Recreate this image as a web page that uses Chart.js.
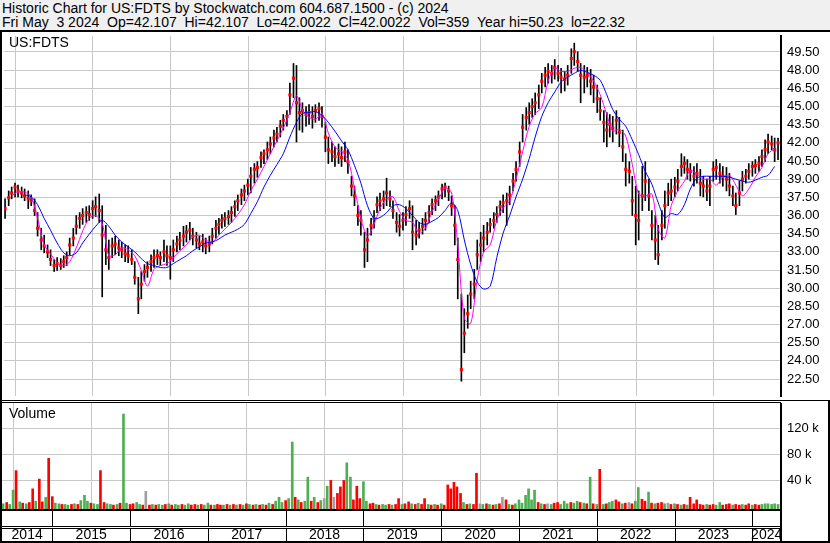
<!DOCTYPE html>
<html>
<head>
<meta charset="utf-8">
<script src="https://cdn.jsdelivr.net/npm/chart.js@4.4.1/dist/chart.umd.min.js"></script>
<style>
  html, body { margin: 0; padding: 0; background: #fff; }
  body { width: 830px; height: 543px; position: relative; overflow: hidden; font-family: "Liberation Sans", Arial, sans-serif; }
  #head { position: absolute; left: 0; top: 0; width: 830px; height: 30px; background: #f0f0f0; }
  .hl { position: absolute; left: 2px; font-size: 14px; line-height: 14px; white-space: pre; color: #000; }
  .blk { position: absolute; background: #000; z-index: 5; }
  .lbl { position: absolute; font-size: 14px; line-height: 14px; color: #000; z-index: 5; }
  #pricebox { position: absolute; left: 0; top: 32px; width: 830px; height: 368px; }
  #volbox { position: absolute; left: 0; top: 403px; width: 830px; height: 140px; }
</style>
</head>
<body>
<div id="head">
  <div class="hl" style="top:1px">Historic Chart for US:FDTS by Stockwatch.com 604.687.1500 - (c) 2024</div>
  <div class="hl" style="top:15px">Fri May  3 2024  Op=42.107  Hi=42.107  Lo=42.0022  Cl=42.0022  Vol=359  Year hi=50.23  lo=22.32</div>
</div>
<div class="blk" style="left:0;top:30px;width:830px;height:2px"></div>
<div id="pricebox"><canvas id="price" width="830" height="368"></canvas></div>
<div id="volbox"><canvas id="vol" width="830" height="140"></canvas></div>
<div class="blk" style="left:0;top:400px;width:830px;height:1px"></div>
<div class="blk" style="left:0;top:402px;width:781px;height:1px"></div>
<div class="blk" style="left:0;top:32px;width:2px;height:510px"></div>
<div class="blk" style="left:828px;top:400px;width:2px;height:143px"></div>
<div class="lbl" style="left:9px;top:35px">US:FDTS</div>
<div class="lbl" style="left:9px;top:406px">Volume</div>

<script>
// semi-monthly sample dates
const dates = [
  '2014-05-15','2014-06-01','2014-06-15','2014-07-01','2014-07-15','2014-08-01','2014-08-15','2014-09-01','2014-09-15','2014-10-01','2014-10-15','2014-11-01','2014-11-15','2014-12-01','2014-12-15',
  '2015-01-01','2015-01-15','2015-02-01','2015-02-15','2015-03-01','2015-03-15','2015-04-01','2015-04-15','2015-05-01','2015-05-15','2015-06-01','2015-06-15','2015-07-01','2015-07-15','2015-08-01','2015-08-15','2015-09-01','2015-09-15','2015-10-01','2015-10-15','2015-11-01','2015-11-15','2015-12-01','2015-12-15',
  '2016-01-01','2016-01-15','2016-02-01','2016-02-15','2016-03-01','2016-03-15','2016-04-01','2016-04-15','2016-05-01','2016-05-15','2016-06-01','2016-06-15','2016-07-01','2016-07-15','2016-08-01','2016-08-15','2016-09-01','2016-09-15','2016-10-01','2016-10-15','2016-11-01','2016-11-15','2016-12-01','2016-12-15',
  '2017-01-01','2017-01-15','2017-02-01','2017-02-15','2017-03-01','2017-03-15','2017-04-01','2017-04-15','2017-05-01','2017-05-15','2017-06-01','2017-06-15','2017-07-01','2017-07-15','2017-08-01','2017-08-15','2017-09-01','2017-09-15','2017-10-01','2017-10-15','2017-11-01','2017-11-15','2017-12-01','2017-12-15',
  '2018-01-01','2018-01-15','2018-02-01','2018-02-15','2018-03-01','2018-03-15','2018-04-01','2018-04-15','2018-05-01','2018-05-15','2018-06-01','2018-06-15','2018-07-01','2018-07-15','2018-08-01','2018-08-15','2018-09-01','2018-09-15','2018-10-01','2018-10-15','2018-11-01','2018-11-15','2018-12-01','2018-12-15',
  '2019-01-01','2019-01-15','2019-02-01','2019-02-15','2019-03-01','2019-03-15','2019-04-01','2019-04-15','2019-05-01','2019-05-15','2019-06-01','2019-06-15','2019-07-01','2019-07-15','2019-08-01','2019-08-15','2019-09-01','2019-09-15','2019-10-01','2019-10-15','2019-11-01','2019-11-15','2019-12-01','2019-12-15',
  '2020-01-01','2020-01-15','2020-02-01','2020-02-15','2020-03-01','2020-03-15','2020-04-01','2020-04-15','2020-05-01','2020-05-15','2020-06-01','2020-06-15','2020-07-01','2020-07-15','2020-08-01','2020-08-15','2020-09-01','2020-09-15','2020-10-01','2020-10-15','2020-11-01','2020-11-15','2020-12-01','2020-12-15',
  '2021-01-01','2021-01-15','2021-02-01','2021-02-15','2021-03-01','2021-03-15','2021-04-01','2021-04-15','2021-05-01','2021-05-15','2021-06-01','2021-06-15','2021-07-01','2021-07-15','2021-08-01','2021-08-15','2021-09-01','2021-09-15','2021-10-01','2021-10-15','2021-11-01','2021-11-15','2021-12-01','2021-12-15',
  '2022-01-01','2022-01-15','2022-02-01','2022-02-15','2022-03-01','2022-03-15','2022-04-01','2022-04-15','2022-05-01','2022-05-15','2022-06-01','2022-06-15','2022-07-01','2022-07-15','2022-08-01','2022-08-15','2022-09-01','2022-09-15','2022-10-01','2022-10-15','2022-11-01','2022-11-15','2022-12-01','2022-12-15',
  '2023-01-01','2023-01-15','2023-02-01','2023-02-15','2023-03-01','2023-03-15','2023-04-01','2023-04-15','2023-05-01','2023-05-15','2023-06-01','2023-06-15','2023-07-01','2023-07-15','2023-08-01','2023-08-15','2023-09-01','2023-09-15','2023-10-01','2023-10-15','2023-11-01','2023-11-15','2023-12-01','2023-12-15',
  '2024-01-01','2024-01-15','2024-02-01','2024-02-15','2024-03-01','2024-03-15','2024-04-01','2024-04-15','2024-05-01'
];

const high = [
  37.38,38.03,38.35,38.67,38.51,38.35,38.19,38.03,37.70,37.38, 36.24,34.95,34.38,33.57,33.17,32.36,32.52,32.44,32.68,33.00,
  34.14,34.95,36.00,36.24,36.57,36.73,36.81,37.22,37.54,37.78, 36.81,35.19,33.98,34.14,34.30,33.98,33.81,33.57,33.49,33.17,
  32.19,30.90,31.38,31.95,32.19,32.76,33.17,33.17,33.00,33.98, 33.49,33.49,33.98,34.30,34.62,35.11,35.19,35.43,34.95,34.62,
  34.30,34.46,34.14,34.30,34.95,35.60,35.76,36.08,36.24,36.41, 36.73,37.22,37.70,38.19,38.51,39.00,39.97,40.29,40.45,41.26,
  41.43,42.07,42.48,43.05,43.29,43.86,44.34,44.66,46.93,48.55, 48.39,45.72,45.31,44.99,45.15,44.99,45.15,45.31,44.99,43.69,
  42.48,42.07,41.67,41.91,41.67,42.07,41.43,39.24,38.43,36.81, 36.41,34.62,34.95,35.76,36.41,37.54,37.86,38.03,39.08,38.03,
  37.22,36.24,36.08,36.24,36.73,37.22,36.81,35.60,35.43,35.76, 36.24,36.81,37.38,37.62,38.03,38.59,38.67,38.43,37.62,36.81,
  34.14,29.52,28.31,29.44,30.58,31.55,33.98,34.62,35.19,35.43, 35.76,36.24,36.73,37.22,37.70,37.86,38.43,39.48,40.45,42.07,
  44.34,44.91,45.31,45.64,46.12,46.77,47.74,48.23,48.55,48.39, 48.88,48.39,48.15,47.90,48.39,49.77,50.23,49.52,48.55,48.39,
  48.23,48.07,47.58,46.77,45.72,44.66,44.50,44.34,44.18,44.66, 44.10,43.05,41.10,40.45,39.24,38.43,38.03,40.05,40.45,39.00,
  36.41,36.00,35.19,36.41,38.03,38.67,39.00,39.16,39.81,41.10, 40.86,40.62,40.29,40.05,40.29,39.81,39.24,39.00,39.24,40.45,
  40.62,40.29,40.05,39.97,39.48,38.43,37.86,38.84,39.65,39.81, 40.29,40.45,40.62,40.86,41.43,42.24,42.72,42.56,42.40,42.40
];

const low = [
  35.76,36.81,37.38,37.54,37.54,37.46,37.22,36.57,36.81,36.00, 34.30,33.17,32.92,32.52,31.87,31.38,31.47,31.55,31.71,31.87,
  32.76,33.49,34.46,34.95,35.27,35.43,35.60,35.76,35.92,35.43, 29.28,31.95,31.55,32.52,32.76,32.68,32.52,32.19,32.11,31.95,
  30.33,27.90,29.12,30.58,30.90,31.38,31.71,31.95,31.87,32.19, 31.87,30.74,32.19,33.00,33.17,33.49,33.81,33.98,33.57,33.33,
  33.17,33.00,32.84,33.00,33.65,34.14,34.46,34.95,35.11,35.27, 35.43,35.92,36.41,36.89,37.22,37.70,37.86,38.67,39.16,39.97,
  40.29,40.62,41.10,41.67,42.07,42.48,43.05,43.37,44.34,45.72, 42.07,43.05,42.88,43.37,43.53,43.21,43.69,43.86,43.29,41.26,
  40.29,40.45,40.05,40.29,40.05,40.45,39.48,37.62,36.81,35.19, 34.38,31.71,32.19,34.38,34.95,36.24,36.41,36.57,36.81,36.73,
  35.76,34.62,34.30,34.79,35.19,35.76,33.17,33.57,34.14,34.46, 34.79,35.43,36.08,36.41,36.81,37.38,37.54,37.22,36.00,33.57,
  29.12,22.32,24.67,26.69,28.31,29.12,31.55,32.19,33.00,33.57, 34.62,34.95,35.43,36.00,36.24,35.19,36.89,38.03,38.84,40.05,
  42.07,43.05,43.53,44.10,44.34,44.83,46.12,46.61,46.93,46.93, 47.26,47.09,46.12,46.28,46.77,47.74,48.39,47.90,45.31,46.12,
  46.61,45.96,45.31,44.50,43.86,42.07,41.67,42.48,42.07,42.72, 41.67,40.45,38.43,38.67,36.00,33.57,33.98,36.41,37.22,36.41,
  33.98,32.36,31.95,33.98,34.95,36.81,37.22,37.54,38.03,39.24, 39.48,39.00,38.84,38.43,38.67,37.62,37.54,37.22,36.81,38.84,
  39.00,38.67,38.43,38.03,37.62,36.81,36.08,36.81,38.03,38.67, 39.00,39.24,39.48,39.65,40.05,40.45,41.10,41.43,40.45,40.62
];

const close = [
  36.57,37.46,37.86,38.35,38.03,37.86,37.62,37.38,37.22,36.41, 34.95,33.98,33.49,33.00,32.36,31.87,32.03,31.87,32.19,32.52,
  33.57,34.14,35.11,35.76,36.00,36.24,36.08,36.57,36.73,36.41, 34.38,33.17,32.52,33.49,33.65,33.33,33.17,32.84,32.68,32.36,
  30.90,29.12,30.33,31.38,31.71,32.19,32.52,32.68,32.52,33.00, 32.68,32.52,33.17,33.65,33.98,34.30,34.62,34.79,34.30,33.98,
  33.65,33.81,33.49,33.65,34.30,34.95,35.27,35.60,35.76,35.92, 36.24,36.73,37.22,37.70,38.03,38.51,39.24,39.81,39.97,40.78,
  41.10,41.43,41.91,42.40,42.72,43.37,43.86,44.18,45.96,47.34, 45.31,44.50,44.66,44.34,44.50,44.18,44.66,44.83,44.18,42.48,
  41.43,41.26,40.86,41.10,40.78,41.26,40.45,38.43,37.62,36.00, 35.60,33.17,33.98,35.19,35.76,36.89,37.22,37.38,37.86,37.38,
  36.41,35.43,35.11,35.60,36.08,36.57,34.62,34.38,34.79,35.11, 35.60,36.24,36.89,37.22,37.54,38.19,38.35,38.03,36.81,35.19,
  32.36,23.29,26.28,27.90,29.52,30.33,32.76,33.57,34.14,34.62, 35.27,35.60,36.08,36.73,37.05,37.22,37.70,38.84,39.81,41.26,
  43.29,44.10,44.50,44.99,45.31,45.96,47.09,47.58,47.90,47.74, 48.23,47.74,47.42,47.26,47.58,48.96,49.52,48.71,47.58,47.42,
  47.58,47.09,46.61,45.64,44.66,43.69,43.05,43.53,43.21,43.86, 42.88,41.67,39.81,39.65,37.22,36.00,35.60,37.62,38.84,37.62,
  35.19,33.98,32.76,35.19,36.81,37.86,38.03,38.35,38.84,40.05, 40.29,39.81,39.65,39.24,39.48,38.67,38.43,38.03,38.43,39.81,
  39.97,39.48,39.24,39.00,38.43,37.62,36.81,37.86,39.00,39.24, 39.65,40.05,40.13,40.29,40.86,41.43,42.07,41.91,41.43,42.00
];

// moving averages, one reading per month (15th)
const maShort = [
  null,37.62,37.94,37.94,37.54,35.76,33.57,32.84,32.11,31.87, 32.19,33.33,34.71,35.76,36.00,35.35,32.68,32.76,33.33,33.17,
  32.68,31.47,30.17,31.55,31.87,32.03,32.52,33.09,33.57,34.22, 34.38,33.98,33.81,34.38,34.87,35.43,36.08,36.89,38.03,39.00,
  40.05,41.10,42.16,43.21,44.50,45.88,44.75,44.10,43.94,44.42, 42.80,41.67,41.26,40.62,38.27,35.76,34.30,35.27,36.57,37.38,
  37.54,36.33,35.60,35.43,34.54,34.95,36.33,37.30,38.27,37.86, 33.57,27.50,27.09,30.74,33.00,33.57,35.60,36.65,37.22,39.00,
  41.26,43.37,44.42,44.91,47.09,48.15,47.90,47.90,48.15,48.23, 47.82,47.09,45.96,44.34,42.96,43.13,42.56,40.21,37.78,37.62,
  37.78,34.87,34.14,36.81,38.03,38.84,39.73,39.40,39.00,39.00, 38.51,39.16,39.32,38.51,37.62,38.19,39.16,39.97,41.10,41.51
];
const maLong = [
  null,null,null,37.70,37.54,36.89,35.76,34.79,33.73,32.92, 32.68,32.92,33.73,34.46,35.11,35.60,35.11,34.38,33.81,33.41,
  33.00,32.44,32.03,31.87,31.71,31.71,32.03,32.36,32.68,33.09, 33.41,33.73,33.81,34.06,34.38,34.62,34.87,35.27,36.16,37.14,
  38.35,39.32,40.21,41.10,42.48,43.69,44.42,44.50,44.58,44.26, 43.69,42.96,42.16,41.43,40.13,38.67,36.81,35.76,35.84,36.24,
  36.81,36.89,36.57,36.00,35.43,35.27,35.52,35.84,36.41,37.05, 36.41,33.98,31.95,30.50,29.93,30.17,32.52,34.54,36.00,37.54,
  39.00,40.70,42.48,44.18,45.31,46.20,47.01,47.42,47.74,47.98, 47.82,47.58,47.17,45.96,44.75,43.94,43.37,42.24,41.02,39.65,
  38.59,37.05,35.84,36.16,36.08,36.89,38.19,39.08,39.24,39.24, 39.24,39.24,39.16,39.00,38.84,38.75,38.92,39.16,39.32,40.05
];

// volume in thousands of shares, colour code per bar: g up, r down, n unchanged
const volume = [
  4,6,3,25,55,7,5,4,6,27, 8,42,7,14,74,15,5,4,3,3, 2,3,4,3,9,17,8,5,4,3, 55,6,4,3,2,3,5,142,5,3,
  4,6,3,2,23,2,3,2,3,2, 3,4,2,3,2,3,2,4,2,3, 2,3,2,5,2,2,3,2,2,3, 2,3,2,3,2,4,3,2,3,2,
  3,2,5,3,8,14,6,9,12,99, 14,10,6,8,45,8,14,6,9,12, 31,40,14,20,30,40,67,45,10,31, 12,38,8,4,5,3,2,3,2,3,
  2,3,12,3,4,7,4,3,5,3, 12,3,2,3,2,4,2,33,27,37, 30,20,6,3,4,3,51,4,3,4, 3,2,3,4,14,10,3,2,4,10,
  5,17,27,10,25,6,4,3,4,3, 5,6,3,8,4,6,5,8,6,5, 4,45,4,3,57,3,4,6,8,10, 7,4,5,6,4,8,29,11,8,22,
  5,4,5,6,4,5,3,4,3,2, 3,2,14,4,10,3,2,3,2,3, 2,6,2,3,4,2,3,2,3,2, 4,2,3,2,3,4,4,3,4,3
];
const volDir =
  'grggrgrgrr' + 'grrgrrggrg' + 'grgrgggrgg' + 'rrggrgrggr' + 'rggrnrgrgg' + 'rgrggrggrr' +
  'grggrgrrgr' + 'grgrgrgrgr' + 'grgrgggrgg' + 'rgrggrgrgn' + 'grnrrrggrr' + 'rggrrgrggr' +
  'grrgrrgrgr' + 'rgrgrgrrrr' + 'rrgrgrrngr' + 'grgrnrgrgg' + 'gggggrgrng' + 'rrgggrggrg' +
  'rgrgrgrggr' + 'rgrnrggrrg' + 'rgrrgnrgrg' + 'rgrrrrrgrr' + 'ggrrrgrrgr' + 'rgrrgggggg';

const priceTicks = [22.5, 24, 25.5, 27, 28.5, 30, 31.5, 33, 34.5, 36, 37.5, 39, 40.5, 42, 43.5, 45, 46.5, 48, 49.5];
const volTicks = [40, 80, 120];
const yearLines = [2015, 2016, 2017, 2018, 2019, 2020, 2021, 2022, 2023, 2024];
const yearLabels = [2014, 2015, 2016, 2017, 2018, 2019, 2020, 2021, 2022, 2023, 2024];

// date string -> fractional year
function toYear(s) {
  const d = Date.parse(s + 'T00:00:00Z');
  const y = +s.slice(0, 4);
  const a = Date.UTC(y, 0, 1), b = Date.UTC(y + 1, 0, 1);
  return y + (d - a) / (b - a);
}

const X_MIN = 2014.3533, X_MAX = 2024.3687;
const FONT = { family: '"Liberation Sans", Arial, sans-serif', size: 13 };
const GRID = '#c8c8c8';
const dirColor = { g: '#4caf50', r: '#ff0000', n: '#a0a0a0' };

const xs = dates.map(toYear);
const maDates = dates.filter((d, i) => i % 2 === 0);
const maXs = maDates.map(toYear);

function xAxis() {
  return {
    type: 'linear', min: X_MIN, max: X_MAX, offset: false,
    grid: { color: GRID, drawTicks: false, lineWidth: 1 },
    border: { display: false },
    ticks: { display: false },
    afterBuildTicks: s => { s.ticks = yearLines.map(v => ({ value: v })); },
    afterFit: s => { s.height = 0; s.paddingLeft = 0; s.paddingRight = 0; }
  };
}

new Chart(document.getElementById('price'), {
  type: 'bar',
  data: {
    datasets: [
      {
        type: 'line', label: 'long', order: 1,
        data: maXs.map((x, i) => ({ x: x, y: maLong[i] })),
        borderColor: '#0000ff', borderWidth: 1, pointRadius: 0, tension: 0.3, spanGaps: false
      },
      {
        type: 'line', label: 'short', order: 2,
        data: maXs.map((x, i) => ({ x: x, y: maShort[i] })),
        borderColor: '#ff00ff', borderWidth: 1, pointRadius: 0, tension: 0.3, spanGaps: false
      },
      {
        type: 'line', label: 'close', order: 3, showLine: false,
        data: xs.map((x, i) => ({ x: x, y: close[i] })),
        pointStyle: 'rect', pointRadius: 2.2, pointBorderWidth: 0,
        pointBackgroundColor: '#ff0000', borderColor: '#ff0000'
      },
      {
        type: 'bar', label: 'range', order: 4, grouped: false,
        data: xs.map((x, i) => ({ x: x, y: [low[i], high[i]] })),
        backgroundColor: '#000', barThickness: 1, borderWidth: 0
      }
    ]
  },
  options: {
    responsive: false, animation: false, devicePixelRatio: 1,
    layout: { padding: { left: 2, right: 0, top: 0, bottom: 1 } },
    plugins: { legend: { display: false }, tooltip: { enabled: false } },
    scales: {
      x: xAxis(),
      y: {
        position: 'right', min: 21.10, max: 50.82,
        grid: { color: GRID, drawTicks: false },
        border: { display: true, color: '#000', width: 2 },
        ticks: { autoSkip: false, padding: 6, color: '#000', font: FONT, callback: v => Number(v).toFixed(2) },
        afterBuildTicks: s => { s.ticks = priceTicks.map(v => ({ value: v })); },
        afterFit: s => { s.width = 49; s.paddingTop = 0; s.paddingBottom = 0; }
      }
    }
  }
});

// year table under the volume panel
const yearRows = {
  id: 'yearRows',
  afterDraw(chart) {
    const { ctx, chartArea: a, scales: { x } } = chart;
    const b = a.bottom;
    ctx.save();
    ctx.fillStyle = '#000';
    ctx.fillRect(0, b, a.right + 1, 2);
    ctx.fillRect(0, b + 17, a.right, 1);
    ctx.fillRect(0, b + 19, a.right, 1);
    ctx.fillRect(0, b + 32, chart.width, 2);
    ctx.fillRect(a.right - 1, b, 2, 34);
    yearLines.forEach(v => {
      const px = Math.round(x.getPixelForValue(v));
      ctx.fillRect(px, b + 2, 1, 15);
      ctx.fillRect(px, b + 20, 1, 12);
    });
    ctx.font = '14px "Liberation Sans", Arial, sans-serif';
    ctx.textAlign = 'center';
    ctx.textBaseline = 'middle';
    yearLabels.forEach(v => {
      const l = Math.max(x.getPixelForValue(v), a.left);
      const r = Math.min(x.getPixelForValue(v + 1), a.right);
      ctx.fillText(String(v), (l + r) / 2, b + 26.5);
    });
    ctx.restore();
  }
};

new Chart(document.getElementById('vol'), {
  type: 'bar',
  data: {
    datasets: [{
      data: xs.map((x, i) => ({ x: x, y: volume[i] })),
      backgroundColor: volume.map((v, i) => dirColor[volDir[i]]),
      barThickness: 2, borderWidth: 0, grouped: false, base: -4
    }]
  },
  options: {
    responsive: false, animation: false, devicePixelRatio: 1,
    layout: { padding: { left: 2, right: 0, top: 0, bottom: 34 } },
    plugins: { legend: { display: false }, tooltip: { enabled: false } },
    scales: {
      x: xAxis(),
      y: {
        position: 'right', min: -4, max: 159,
        grid: { color: GRID, drawTicks: false },
        border: { display: true, color: '#000', width: 2 },
        ticks: { autoSkip: false, padding: 6, color: '#000', font: FONT, callback: v => v + ' k' },
        afterBuildTicks: s => { s.ticks = volTicks.map(v => ({ value: v })); },
        afterFit: s => { s.width = 49; s.paddingTop = 0; s.paddingBottom = 0; }
      }
    }
  },
  plugins: [yearRows]
});
</script>
</body>
</html>
